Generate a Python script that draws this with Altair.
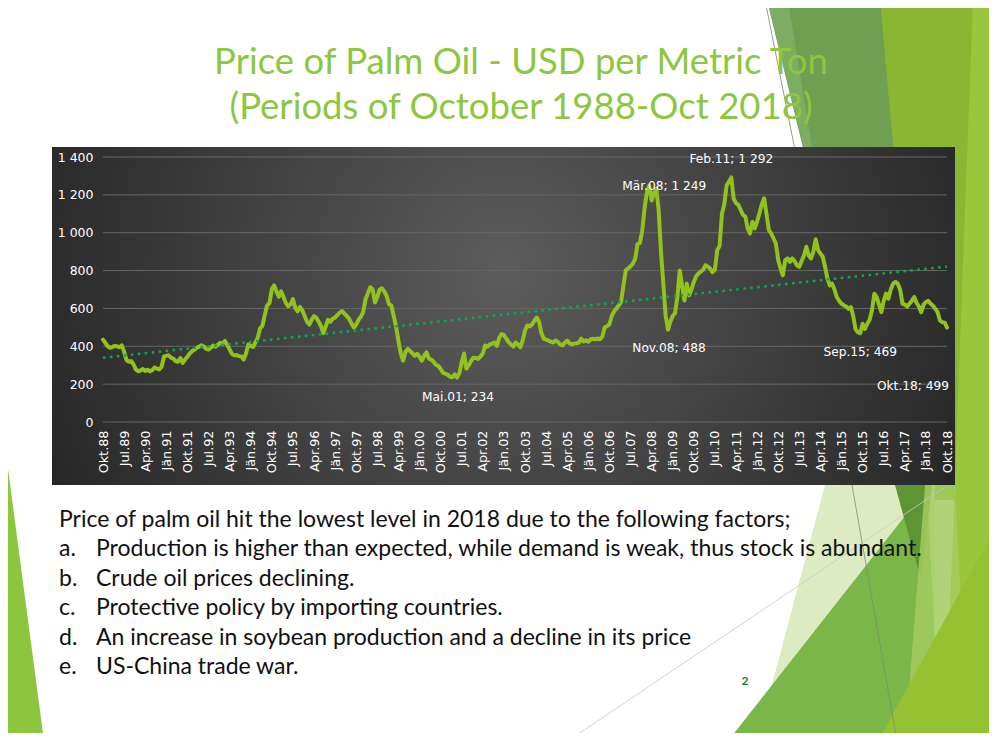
import json
import altair as alt
import pandas as pd

# ---------------- data (USD per metric ton, monthly, Oct 1988 - Oct 2018) ----------------
p1988 = [435, 418, 400]
p1989 = [392, 396, 402, 400, 395, 405, 372, 328, 318, 322, 305, 278]
p1990 = [268, 272, 280, 270, 276, 268, 274, 288, 282, 278, 292, 345]
p1991 = [350, 352, 340, 335, 322, 318, 338, 312, 330, 345, 362, 375]
p1992 = [382, 392, 398, 405, 400, 386, 382, 392, 404, 398, 408, 418]
p1993 = [414, 428, 408, 384, 360, 352, 354, 348, 346, 330, 362, 410]
p1994 = [402, 396, 420, 445, 495, 508, 565, 615, 628, 702, 722, 690]
p1995 = [662, 690, 660, 628, 612, 622, 650, 602, 585, 608, 590, 560]
p1996 = [530, 515, 540, 560, 550, 530, 505, 470, 505, 540, 530, 545]
p1997 = [552, 566, 578, 586, 572, 560, 545, 520, 500, 515, 540, 556]
p1998 = [582, 650, 680, 712, 700, 632, 660, 700, 706, 690, 665, 622]
p1999 = [615, 560, 505, 430, 362, 324, 370, 386, 375, 362, 350, 360]
p2000 = [345, 324, 350, 368, 335, 330, 318, 302, 297, 280, 261, 255]
p2001 = [250, 240, 236, 252, 234, 258, 315, 362, 282, 300, 322, 340]
p2002 = [338, 334, 345, 362, 404, 398, 410, 414, 420, 402, 445, 465]
p2003 = [460, 440, 422, 410, 398, 420, 410, 395, 430, 484, 510, 505]
p2004 = [515, 535, 552, 530, 470, 440, 435, 430, 424, 420, 430, 424]
p2005 = [410, 404, 420, 430, 415, 410, 414, 416, 420, 440, 426, 432]
p2006 = [424, 436, 440, 437, 441, 437, 452, 500, 506, 516, 560, 585]
p2007 = [600, 616, 636, 722, 802, 812, 822, 836, 862, 940, 946, 1010]
p2008 = [1130, 1215, 1249, 1170, 1210, 1232, 1120, 900, 730, 560, 488, 530]
p2009 = [560, 575, 660, 801, 720, 642, 731, 669, 700, 740, 770, 784]
p2010 = [795, 805, 828, 820, 810, 792, 805, 908, 930, 1100, 1150, 1250]
p2011 = [1270, 1292, 1180, 1156, 1147, 1120, 1094, 1085, 1020, 996, 1058, 1023]
p2012 = [1060, 1103, 1150, 1182, 1100, 1014, 996, 970, 943, 855, 811, 775]
p2013 = [855, 864, 846, 864, 850, 828, 820, 850, 880, 926, 880, 864]
p2014 = [900, 965, 908, 890, 873, 820, 758, 722, 731, 700, 660, 640]
p2015 = [625, 616, 610, 598, 607, 560, 490, 474, 469, 519, 492, 519]
p2016 = [540, 590, 678, 660, 620, 580, 640, 678, 651, 700, 731, 740]
p2017 = [731, 700, 625, 620, 610, 625, 640, 660, 630, 610, 580, 620]
p2018 = [634, 640, 625, 615, 598, 580, 536, 527, 525, 499]

tick_labels = ["Okt.88", "Jul.89", "Apr.90", "Jän.91", "Okt.91", "Jul.92", "Apr.93",
               "Jän.94", "Okt.94", "Jul.95", "Apr.96", "Jän.97", "Okt.97", "Jul.98",
               "Apr.99", "Jän.00", "Okt.00", "Jul.01", "Apr.02", "Jän.03", "Okt.03",
               "Jul.04", "Apr.05", "Jän.06", "Okt.06", "Jul.07", "Apr.08", "Jän.09",
               "Okt.09", "Jul.10", "Apr.11", "Jän.12", "Okt.12", "Jul.13", "Apr.14",
               "Jän.15", "Okt.15", "Jul.16", "Apr.17", "Jän.18", "Okt.18"]
y_ticks = [0, 200, 400, 600, 800, 1000, 1200, 1400]

annotation_months = [233, 268, 241, 151, 323, 360]
annotation_texts = ["Mär.08; 1 249", "Feb.11; 1 292", "Nov.08; 488",
                    "Mai.01; 234", "Sep.15; 469", "Okt.18; 499"]

title_lines = ["Price of Palm Oil - USD per Metric Ton",
               "(Periods of October 1988-Oct 2018)"]
body_intro = "Price of palm oil hit the lowest level in 2018 due to the following factors;"
body_letters = ["a.", "b.", "c.", "d.", "e."]
body_items = ["Production is higher than expected, while demand is weak, thus stock is abundant.",
              "Crude oil prices declining.",
              "Protective policy by importing countries.",
              "An increase in soybean production and a decline in its price",
              "US-China trade war."]
page_number = "2"

# ---------------- tables ----------------
years = [p1988, p1989, p1990, p1991, p1992, p1993, p1994, p1995, p1996, p1997,
         p1998, p1999, p2000, p2001, p2002, p2003, p2004, p2005, p2006, p2007,
         p2008, p2009, p2010, p2011, p2012, p2013, p2014, p2015, p2016, p2017, p2018]
prices = [v for yr in years for v in yr]
df = pd.DataFrame({"m": list(range(len(prices))), "price": prices})
grid_df = pd.DataFrame({"price": y_ticks})
tick_step = 9
tick_values = [i * tick_step for i in range(len(tick_labels))]

# ---------------- layout ----------------
OX, OY = 103, 157          # plot-area origin on the page
W, H = 844, 265
TOTAL_W, TOTAL_H = 981, 725
PAD = {"left": OX - 8, "top": OY - 8,
       "right": TOTAL_W - (OX - 8) - W, "bottom": TOTAL_H - (OY - 8) - H}

one = alt.Data(values=[{"k": 1}])


def vx(sx):
    return sx - OX


def vy(sy):
    return sy - OY


def poly(points, color, opacity=1.0):
    path = "M" + " L".join(f"{vx(x):.1f},{vy(y):.1f}" for x, y in points) + " Z"
    return alt.Chart(one).mark_point(shape=path, size=4, filled=True, fill=color,
                                     opacity=opacity, strokeWidth=0).encode(
        x=alt.value(0), y=alt.value(0))


def seg(p, q, color, width=1.0, opacity=1.0):
    path = f"M{vx(p[0]):.1f},{vy(p[1]):.1f} L{vx(q[0]):.1f},{vy(q[1]):.1f}"
    return alt.Chart(one).mark_point(shape=path, size=4, filled=False, stroke=color,
                                     strokeWidth=width, opacity=opacity).encode(
        x=alt.value(0), y=alt.value(0))


def text_layer(txt, sx, sy, size, color, font, align="left", weight="normal"):
    return alt.Chart(one).mark_text(text=txt, align=align, baseline="alphabetic",
                                    font=font, fontSize=size, color=color,
                                    fontWeight=weight).encode(
        x=alt.value(vx(sx)), y=alt.value(vy(sy)))


decor = [
    # top right
    poly([(767, 0), (882, 0), (918, 320), (845, 320)], "#6F9F50"),
    poly([(767, 0), (788, 0), (812, 148), (804, 148)], "#7DAD63"),
    poly([(880, 0), (975, 0), (955, 500), (925, 500)], "#89B734"),
    poly([(973, 0), (997, 0), (997, 741), (945, 741)], "#98C73C"),
    seg((765, 0), (795, 150), "#9a9a9a", 1.0),
    # bottom right
    poly([(825, 485), (935, 485), (935, 741), (757, 741)], "#DDEBC3"),
    poly([(728, 741), (927, 488), (940, 741)], "#7BB649"),
    poly([(895, 485), (932, 485), (921, 580)], "#5E9534"),
    poly([(925, 485), (955, 485), (968, 741), (905, 741)], "#A3CB5F", 0.85),
    poly([(997, 525), (997, 741), (878, 741)], "#94C232"),
    seg((852, 485), (897, 741), "#7a8f6a", 0.8),
    seg((568, 741), (945, 487), "#c8c8c8", 0.8),
    # bottom left
    poly([(0, 408), (44, 741), (0, 741)], "#8CC63F"),
]

panel = alt.Chart(one).mark_rect(
    fill={"gradient": "radial", "x1": 0.5, "y1": 0.45, "r1": 0,
          "x2": 0.5, "y2": 0.45, "r2": 0.55,
          "stops": [{"offset": 0, "color": "#5c5c5c"},
                    {"offset": 1, "color": "#272727"}]}
).encode(x=alt.value(vx(52)), x2=alt.value(vx(955)),
         y=alt.value(vy(147)), y2=alt.value(vy(485)))

label_expr = json.dumps(tick_labels, ensure_ascii=False) + f"[round(datum.value / {tick_step})]"

x_enc = alt.X("m:Q", title=None,
              scale=alt.Scale(domain=[0, len(prices) - 1], nice=False, zero=False),
              axis=alt.Axis(values=tick_values, labelExpr=label_expr, labelAngle=270,
                            labelAlign="right", labelBaseline="middle",
                            labelColor="white", labelFont="DejaVu Sans", labelFontSize=12.8,
                            labelPadding=8, labelOverlap=False, labelFlush=False,
                            labelBound=False, grid=False, domain=False, ticks=False,
                            zindex=2))
y_enc = alt.Y("price:Q", title=None,
              scale=alt.Scale(domain=[0, 1400], nice=False),
              axis=alt.Axis(values=y_ticks,
                            labelExpr="replace(format(datum.value, ','), ',', ' ')",
                            labelColor="white", labelFont="DejaVu Sans", labelFontSize=12.5,
                            labelPadding=10, grid=False, domain=False, ticks=False,
                            zindex=2))

gridlines = alt.Chart(grid_df).mark_rule(color="#666666", strokeWidth=1).encode(y=y_enc)

base = alt.Chart(df)
line = base.mark_line(color="#93C11E", strokeWidth=4, strokeJoin="round",
                      strokeCap="round").encode(x=x_enc, y=y_enc)
trend = base.transform_regression("m", "price").mark_line(
    color="#00B050", strokeWidth=2.5, strokeDash=[2.5, 4.5]).encode(x=x_enc, y=y_enc)

offsets = {"Mär.08; 1 249": (15, 4), "Feb.11; 1 292": (0, -14),
           "Nov.08; 488": (1, 22), "Mai.01; 234": (1, 23),
           "Sep.15; 469": (0, 23), "Okt.18; 499": (-34, 62)}
annos = []
for m, txt in zip(annotation_months, annotation_texts):
    adf = pd.DataFrame({"m": [m], "price": [prices[m]]})
    dx, dy = offsets[txt]
    annos.append(alt.Chart(adf).mark_text(text=txt, color="white", font="DejaVu Sans",
                                          fontSize=12.2, align="center",
                                          baseline="alphabetic", dx=dx, dy=dy)
                 .encode(x=x_enc, y=y_enc))

texts = [
    text_layer(title_lines[0], 521, 74, 36.5, "#8DC63F", "Lato", align="center"),
    text_layer(title_lines[1], 521, 119, 36.5, "#8DC63F", "Lato", align="center"),
    text_layer(body_intro, 59, 527, 23, "#111111", "Lato"),
]
for i, (let, item) in enumerate(zip(body_letters, body_items)):
    yb = 556 + i * 29.6
    texts.append(text_layer(let, 59, yb, 23, "#111111", "Lato"))
    texts.append(text_layer(item, 96, yb, 23, "#111111", "Lato"))
texts.append(text_layer(page_number, 745, 685, 12, "#1B7A3A", "Lato", align="center",
                        weight="bold"))

chart = alt.layer(*decor, panel, gridlines, line, trend, *annos, *texts).properties(
    width=W, height=H, padding=PAD,
    autosize=alt.AutoSizeParams(type="none"),
    background="white",
).configure_view(stroke=None)

chart.save("out.html", embed_options={"renderer": "svg", "actions": False})
